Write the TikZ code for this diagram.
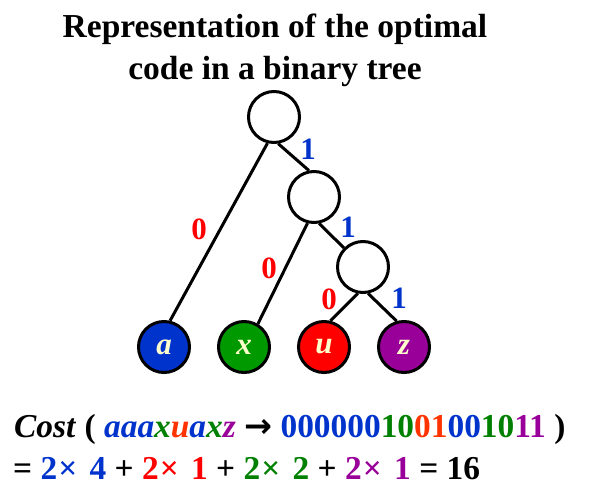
\documentclass[tikz,border=0pt]{standalone}
\usepackage{fontspec}
\setmainfont{Liberation Serif}
\newfontfamily\arrowfont{DejaVu Sans}
\definecolor{cblue}{HTML}{0033CC}
\definecolor{cgreen}{HTML}{009900}
\definecolor{tgreen}{HTML}{008000}
\definecolor{cred}{HTML}{FF0000}
\definecolor{corange}{HTML}{FF3300}
\definecolor{cpurple}{HTML}{990099}
\definecolor{cream}{HTML}{FFFFCC}
\newcommand{\tms}{\kern1pt×\kern4pt}
\begin{document}
\begin{tikzpicture}[x=1pt,y=-1pt,
  inode/.style={circle,draw=black,line width=3pt,minimum size=51pt,inner sep=0pt,fill=white},
  leaf/.style={inode,text=cream,font=\fontsize{31}{31}\selectfont\bfseries\itshape},
  edge/.style={line width=3pt,black},
  zero/.style={text=cred,font=\fontsize{31}{31}\selectfont\bfseries,inner sep=0pt},
  one/.style={text=cblue,font=\fontsize{31}{31}\selectfont\bfseries,inner sep=0pt},
  big/.style={font=\fontsize{33.4}{33.4}\selectfont\bfseries,inner sep=0pt,anchor=base west}]
\useasboundingbox (0,0) rectangle (593,492);
\node[font=\fontsize{33.5}{33.5}\selectfont\bfseries,anchor=base,inner sep=0pt] (t1) at (275,38) {Representation of the optimal};
\node[font=\fontsize{33.5}{33.5}\selectfont\bfseries,anchor=base,inner sep=0pt] (t2) at (275,80) {code in a binary tree};
\node[inode] (r) at (274,117) {};
\node[inode] (n2) at (314,197) {};
\node[inode] (n3) at (363,267) {};
\node[leaf,fill=cblue] (a) at (164,347) {a};
\node[leaf,fill=cgreen] (x) at (244,347) {x};
\node[leaf,fill=cred] (u) at (324,347) {u};
\node[leaf,fill=cpurple] (z) at (404,347) {z};
\draw[edge] (r.256) -- (a.77);
\draw[edge] (r.279) -- (n2.101);
\draw[edge] (n2.256) -- (x.59);
\draw[edge] (n2.281) -- (n3.135);
\draw[edge] (n3.259) -- (u.76);
\draw[edge] (n3.281) -- (z.106);
\node[one] (l1) at (308,149) {1};
\node[zero] (l2) at (199,229) {0};
\node[zero] (l3) at (269,268) {0};
\node[one] (l4) at (348,227) {1};
\node[zero] (l5) at (329,299) {0};
\node[one] (l6) at (399,298) {1};
\node[big] (cost) at (14,437) {\textit{Cost} ( \textit{\textcolor{cblue}{aaa}\textcolor{tgreen}{x}\textcolor{corange}{u}\textcolor{cblue}{a}\textcolor{tgreen}{x}\textcolor{cpurple}{z}} {\arrowfont\bfseries →} \textcolor{cblue}{000000}\textcolor{tgreen}{10}\textcolor{corange}{01}\textcolor{cblue}{00}\textcolor{tgreen}{10}\textcolor{cpurple}{11} )};
\node[big] (sum) at (13,479) {= \textcolor{cblue}{2\tms{} 4} + \textcolor{cred}{2\tms{} 1} + \textcolor{tgreen}{2\tms{} 2} + \textcolor{cpurple}{2\tms{} 1} = 16};
\end{tikzpicture}
\end{document}
